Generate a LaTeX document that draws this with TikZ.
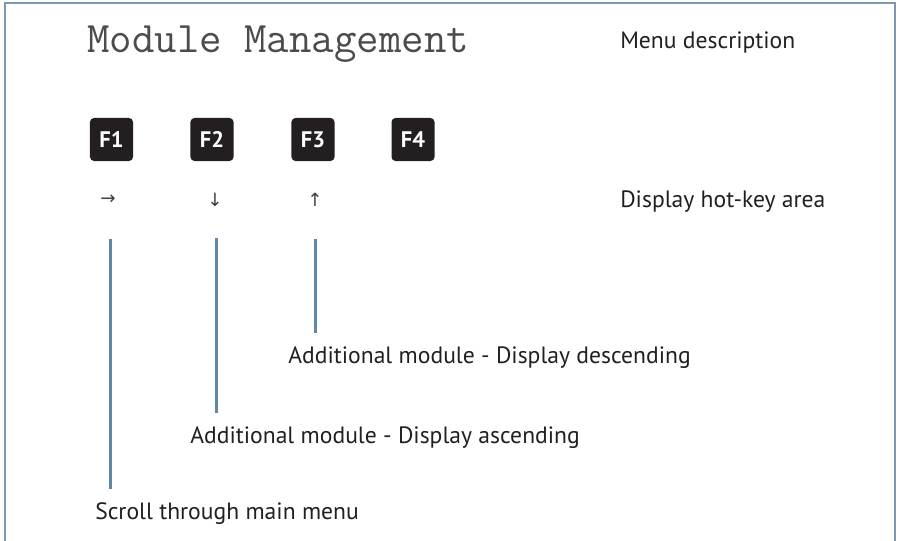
\documentclass[tikz,border=0pt]{standalone}
\usepackage{fontspec}
\setmainfont{PT Sans}
\newfontfamily\arrowfont{DejaVu Sans}
\usetikzlibrary{positioning}

\definecolor{framegray}{HTML}{7D98B3}
\definecolor{leadblue}{HTML}{5E87A8}
\definecolor{keyblack}{HTML}{231F20}

\begin{document}
\begin{tikzpicture}[x=0.025cm, y=-0.025cm,
    desc/.style={inner sep=0pt, anchor=west, text=keyblack, font=\fontsize{16.8}{19}\selectfont},
    lcdtext/.style={inner sep=0pt, text=black!70, font=\fontsize{31}{31}\selectfont\ttfamily},
    fkey/.style={fill=keyblack, rounded corners=0.1cm, minimum size=1.075cm, inner sep=0pt,
        text=white, font=\fontsize{16}{16}\selectfont\bfseries},
    hotarrow/.style={inner sep=0pt, text=black!75, font=\fontsize{13}{13}\selectfont\arrowfont},
    lead/.style={draw=leadblue, line width=1.8pt, shorten >=10pt}]
    \useasboundingbox (0,0) rectangle (900,540);

    % Frame (open at the bottom)
    \draw[framegray, line width=1.4pt] (5,545) -- (5,3) -- (895,3) -- (895,545);

    % Display text
    \node[lcdtext, anchor=base west] (title) at (87,52) {Module Management};
    \node[desc] (menudesc) at (620,42) {Menu description};

    % Function keys
    \node[fkey] (f1) at (111.5,139.5) {F1};
    \node[fkey] (f2) at (212,139.5) {F2};
    \node[fkey] (f3) at (313,139.5) {F3};
    \node[fkey] (f4) at (413,139.5) {F4};

    % Hot-key symbols
    \node[hotarrow] (hk1) at (108,200) {→};
    \node[hotarrow] (hk2) at (215,200) {↓};
    \node[hotarrow] (hk3) at (315,200) {↑};
    \node[desc] (hotkey) at (620,202) {Display hot-key area};

    % Explanations
    \node[desc] (desc3) at (288,358) {Additional module - Display descending};
    \node[desc] (desc2) at (190,438) {Additional module - Display ascending};
    \node[desc] (desc1) at (95,514) {Scroll through main menu};

    % Lead lines
    \coordinate (top1) at (110.7,239);
    \coordinate (top2) at (216.7,238);
    \coordinate (top3) at (315.7,239);
    \draw[lead] (top1) -- (top1 |- desc1.north);
    \draw[lead] (top2) -- (top2 |- desc2.north);
    \draw[lead] (top3) -- (top3 |- desc3.north);
\end{tikzpicture}
\end{document}
